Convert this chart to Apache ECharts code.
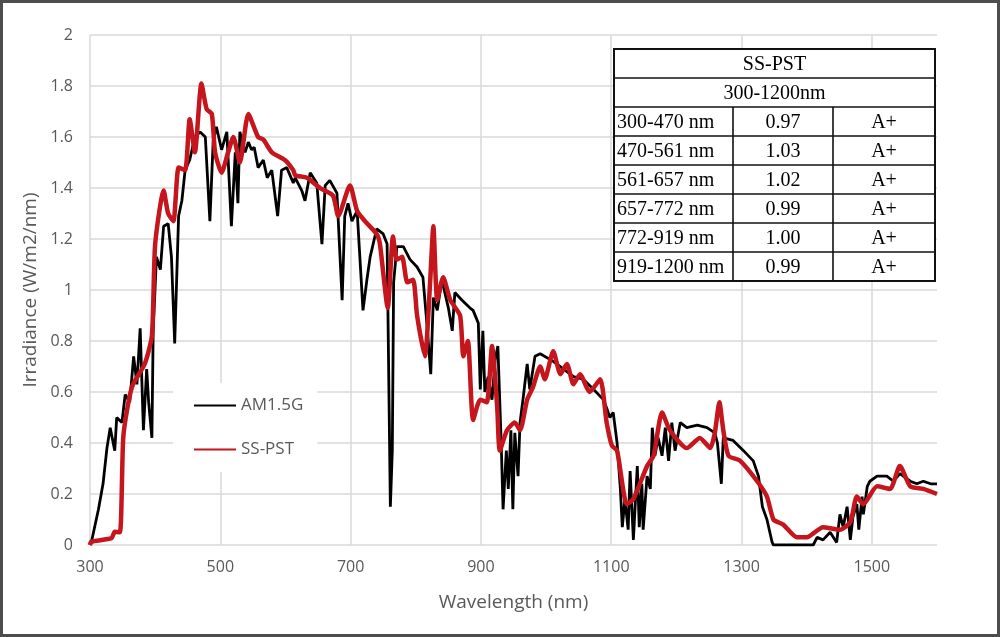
<!DOCTYPE html>
<html>
<head>
<meta charset="utf-8">
<script src="https://cdn.jsdelivr.net/npm/echarts@6/dist/echarts.min.js"></script>
<style>
  html, body { margin: 0; padding: 0; background: #fff; }
  #chart { width: 1000px; height: 637px; }
</style>
</head>
<body>
<div id="chart"></div>
<script>
// AM1.5G reference spectrum
const amWave = [
  300, 302, 313, 320, 326, 331, 338, 341, 349, 354,
  361, 367, 372, 377, 382, 387, 390, 395, 397, 402,
  408, 413, 420, 425, 430, 436, 441, 446, 453, 461,
  469, 477, 484, 489, 494, 502, 510, 517, 523, 527,
  530, 538, 543, 548, 552, 558, 566, 572, 579, 588,
  594, 602, 612, 615, 625, 630, 638, 648, 656, 661,
  668, 679, 687, 691, 696, 702, 710, 719, 725, 730,
  740, 750, 756, 761, 764, 766, 771, 781, 791, 802,
  811, 817, 823, 827, 833, 840, 850, 856, 860, 871,
  883, 888, 896, 899, 903, 906, 911, 917, 922, 926,
  931, 934, 939, 942, 946, 949, 952, 957, 960, 965,
  971, 975, 983, 991, 1011, 1027, 1042, 1057, 1073, 1088,
  1094, 1098, 1103, 1109, 1114, 1117, 1121, 1126, 1129, 1134,
  1140, 1143, 1147, 1149, 1155, 1160, 1163, 1167, 1172, 1178,
  1183, 1188, 1193, 1198, 1206, 1216, 1232, 1247, 1259, 1263,
  1269, 1272, 1287, 1303, 1318, 1326, 1332, 1339, 1347, 1349,
  1410, 1416, 1425, 1436, 1446, 1451, 1456, 1462, 1467, 1471,
  1477, 1480, 1485, 1487, 1493, 1497, 1508, 1523, 1533, 1543,
  1559, 1569, 1579, 1590, 1600];
const amIrr = [
  0, 0.01, 0.14, 0.24, 0.38, 0.46, 0.37, 0.50, 0.48, 0.59,
  0.56, 0.74, 0.63, 0.85, 0.45, 0.69, 0.56, 0.42, 0.84, 1.13,
  1.08, 1.25, 1.26, 1.13, 0.79, 1.29, 1.35, 1.47, 1.51, 1.60,
  1.62, 1.60, 1.27, 1.58, 1.64, 1.55, 1.62, 1.25, 1.54, 1.34,
  1.62, 1.54, 1.58, 1.55, 1.56, 1.48, 1.51, 1.44, 1.47, 1.29,
  1.47, 1.48, 1.42, 1.44, 1.39, 1.35, 1.46, 1.42, 1.18, 1.41,
  1.43, 1.38, 0.96, 1.29, 1.34, 1.27, 1.31, 0.92, 1.04, 1.13,
  1.24, 1.22, 1.18, 0.15, 0.37, 1.03, 1.17, 1.17, 1.12, 1.09,
  1.05, 0.87, 0.67, 0.97, 0.92, 1.04, 0.93, 0.84, 0.99, 0.96,
  0.93, 0.92, 0.87, 0.61, 0.84, 0.60, 0.66, 0.57, 0.73, 0.78,
  0.41, 0.14, 0.37, 0.22, 0.45, 0.14, 0.44, 0.27, 0.48, 0.58,
  0.71, 0.61, 0.74, 0.75, 0.72, 0.69, 0.66, 0.65, 0.61, 0.57,
  0.53, 0.50, 0.52, 0.40, 0.22, 0.07, 0.18, 0.06, 0.29, 0.02,
  0.31, 0.07, 0.24, 0.06, 0.27, 0.22, 0.46, 0.35, 0.42, 0.35,
  0.46, 0.33, 0.48, 0.37, 0.48, 0.46, 0.47, 0.46, 0.44, 0.40,
  0.24, 0.42, 0.41, 0.37, 0.33, 0.27, 0.15, 0.10, 0.01, 0,
  0, 0.03, 0.02, 0.05, 0.01, 0.12, 0.07, 0.15, 0.02, 0.11,
  0.16, 0.06, 0.19, 0.12, 0.23, 0.25, 0.27, 0.27, 0.25, 0.28,
  0.25, 0.24, 0.25, 0.24, 0.24];

// SS-PST simulator spectrum
const pstWave = [
  300, 302, 333, 338, 346, 351, 359, 366, 384, 395,
  400, 413, 420, 428, 436, 446, 453, 461, 471, 479,
  487, 492, 502, 512, 520, 530, 543, 558, 566, 579,
  599, 612, 615, 633, 653, 673, 681, 699, 710, 722,
  740, 745, 757, 765, 771, 779, 787, 796, 802, 814,
  822, 827, 833, 842, 853, 868, 873, 880, 888, 899,
  909, 917, 925, 929, 940, 952, 960, 971, 980, 991,
  998, 1011, 1022, 1032, 1042, 1052, 1067, 1083, 1093, 1101,
  1109, 1124, 1134, 1155, 1165, 1178, 1190, 1216, 1236, 1252,
  1259, 1266, 1272, 1280, 1298, 1324, 1339, 1349, 1364, 1385,
  1400, 1425, 1451, 1467, 1477, 1487, 1508, 1528, 1543, 1559,
  1579, 1600];
const pstIrr = [
  0, 0.013, 0.027, 0.052, 0.05, 0.42, 0.56, 0.63, 0.71, 0.82,
  1.18, 1.39, 1.30, 1.27, 1.48, 1.47, 1.67, 1.54, 1.81, 1.71,
  1.69, 1.54, 1.46, 1.54, 1.60, 1.50, 1.69, 1.60, 1.59, 1.54,
  1.51, 1.47, 1.45, 1.44, 1.40, 1.37, 1.29, 1.41, 1.31, 1.27,
  1.22, 1.18, 0.93, 1.21, 1.12, 1.13, 1.03, 1.04, 0.90, 0.74,
  1.03, 1.25, 0.96, 1.05, 0.96, 0.90, 0.74, 0.80, 0.49, 0.57,
  0.56, 0.78, 0.54, 0.37, 0.45, 0.48, 0.45, 0.57, 0.62, 0.70,
  0.65, 0.76, 0.67, 0.71, 0.63, 0.67, 0.60, 0.65, 0.48, 0.39,
  0.37, 0.16, 0.18, 0.31, 0.35, 0.52, 0.45, 0.38, 0.42, 0.38,
  0.44, 0.56, 0.45, 0.35, 0.33, 0.25, 0.19, 0.10, 0.08, 0.03,
  0.03, 0.07, 0.06, 0.09, 0.19, 0.16, 0.23, 0.22, 0.31, 0.23,
  0.22, 0.20];

// spectral match table
const tableTitle = 'SS-PST';
const tableSpan = '300-1200nm';
const bandLabels = ['300-470 nm', '470-561 nm', '561-657 nm', '657-772 nm', '772-919 nm', '919-1200 nm'];
const bandRatios = ['0.97', '1.03', '1.02', '0.99', '1.00', '0.99'];
const bandClass = ['A+', 'A+', 'A+', 'A+', 'A+', 'A+'];

const sansFont = '"Open Sans", "Noto Sans", sans-serif';
const serifFont = '"Liberation Serif", serif';
const textGray = '#595959';

const myChart = echarts.init(document.getElementById('chart'));

// table drawn as graphic elements
const buildTable = () => {
    const x0 = 614, x1 = 733, x2 = 833, x3 = 935;
    const top = 49, rowH = 29;
    const nRows = 2 + bandLabels.length;
    const bottom = top + rowH * nRows;
    const items = [];
    items.push({ type: 'rect', shape: { x: x0, y: top, width: x3 - x0, height: bottom - top },
        style: { fill: '#fff', stroke: '#111', lineWidth: 2 }, z: 10 });
    for (let r = 1; r < nRows; r++) {
        const y = top + rowH * r;
        items.push({ type: 'line', shape: { x1: x0, y1: y, x2: x3, y2: y }, style: { stroke: '#111', lineWidth: 1.6 }, z: 11 });
    }
    [x1, x2].forEach(x => {
        items.push({ type: 'line', shape: { x1: x, y1: top + rowH * 2, x2: x, y2: bottom }, style: { stroke: '#111', lineWidth: 1.6 }, z: 11 });
    });
    const txt = (t, x, y, align) => ({ type: 'text', z: 12,
        style: { text: t, x: x, y: y, font: '20px ' + serifFont, fill: '#000', textAlign: align, textVerticalAlign: 'middle', verticalAlign: 'middle' } });
    items.push(txt(tableTitle, (x0 + x3) / 2, top + rowH / 2 + 1, 'center'));
    items.push(txt(tableSpan, (x0 + x3) / 2, top + rowH * 1.5 + 1, 'center'));
    bandLabels.forEach((b, i) => {
        const y = top + rowH * (2 + i) + rowH / 2 + 1;
        items.push(txt(b, x0 + 3, y, 'left'));
        items.push(txt(bandRatios[i], (x1 + x2) / 2, y, 'center'));
        items.push(txt(bandClass[i], (x2 + x3) / 2, y, 'center'));
    });
    return items;
};

const option = {
    backgroundColor: '#fff',
    animation: false,
    grid: { left: 90, right: 63, top: 35, bottom: 92 },
    legend: {
        orient: 'vertical', left: 173, top: 383,
        padding: [14, 14, 14, 20], itemGap: 27, itemWidth: 42, itemHeight: 14,
        backgroundColor: '#fff',
        itemStyle: { opacity: 0 },
        textStyle: { fontSize: 17, color: textGray, fontFamily: sansFont },
        data: ['AM1.5G', 'SS-PST']
    },
    xAxis: {
        type: 'value', min: 300, max: 1600, interval: 200,
        name: 'Wavelength (nm)', nameLocation: 'middle', nameGap: 48,
        nameTextStyle: { fontSize: 19, color: textGray, fontFamily: sansFont },
        axisLine: { show: false }, axisTick: { show: false },
        axisLabel: { fontSize: 16, color: textGray, fontFamily: sansFont, margin: 14, showMaxLabel: false,
            formatter: v => String(v) },
        splitLine: { show: true, showMaxLine: false, lineStyle: { color: '#d9d9d9', width: 1.5 } }
    },
    yAxis: {
        type: 'value', min: 0, max: 2, interval: 0.2,
        name: 'Irradiance (W/m2/nm)', nameLocation: 'middle', nameGap: 50,
        nameTextStyle: { fontSize: 19, color: textGray, fontFamily: sansFont },
        axisLine: { show: false }, axisTick: { show: false },
        axisLabel: { fontSize: 16, color: textGray, fontFamily: sansFont, margin: 17 },
        splitLine: { show: true, lineStyle: { color: '#d9d9d9', width: 1.5 } }
    },
    series: [
        {
            name: 'AM1.5G', type: 'line', symbol: 'none',
            data: amWave.map((w, i) => [w, amIrr[i]]),
            lineStyle: { color: '#000', width: 2.8 }, itemStyle: { color: '#000' }, z: 2
        },
        {
            name: 'SS-PST', type: 'line', symbol: 'none', smooth: 0.2,
            data: pstWave.map((w, i) => [w, pstIrr[i]]),
            lineStyle: { color: '#c4161c', width: 4.5 }, itemStyle: { color: '#c4161c' }, z: 3
        }
    ],
    graphic: [
        { type: 'rect', shape: { x: 1.5, y: 1.5, width: 997, height: 634 }, style: { fill: null, stroke: '#4d4d4d', lineWidth: 3 }, z: 20 },
        ...buildTable()
    ]
};
myChart.setOption(option);
</script>
</body>
</html>
